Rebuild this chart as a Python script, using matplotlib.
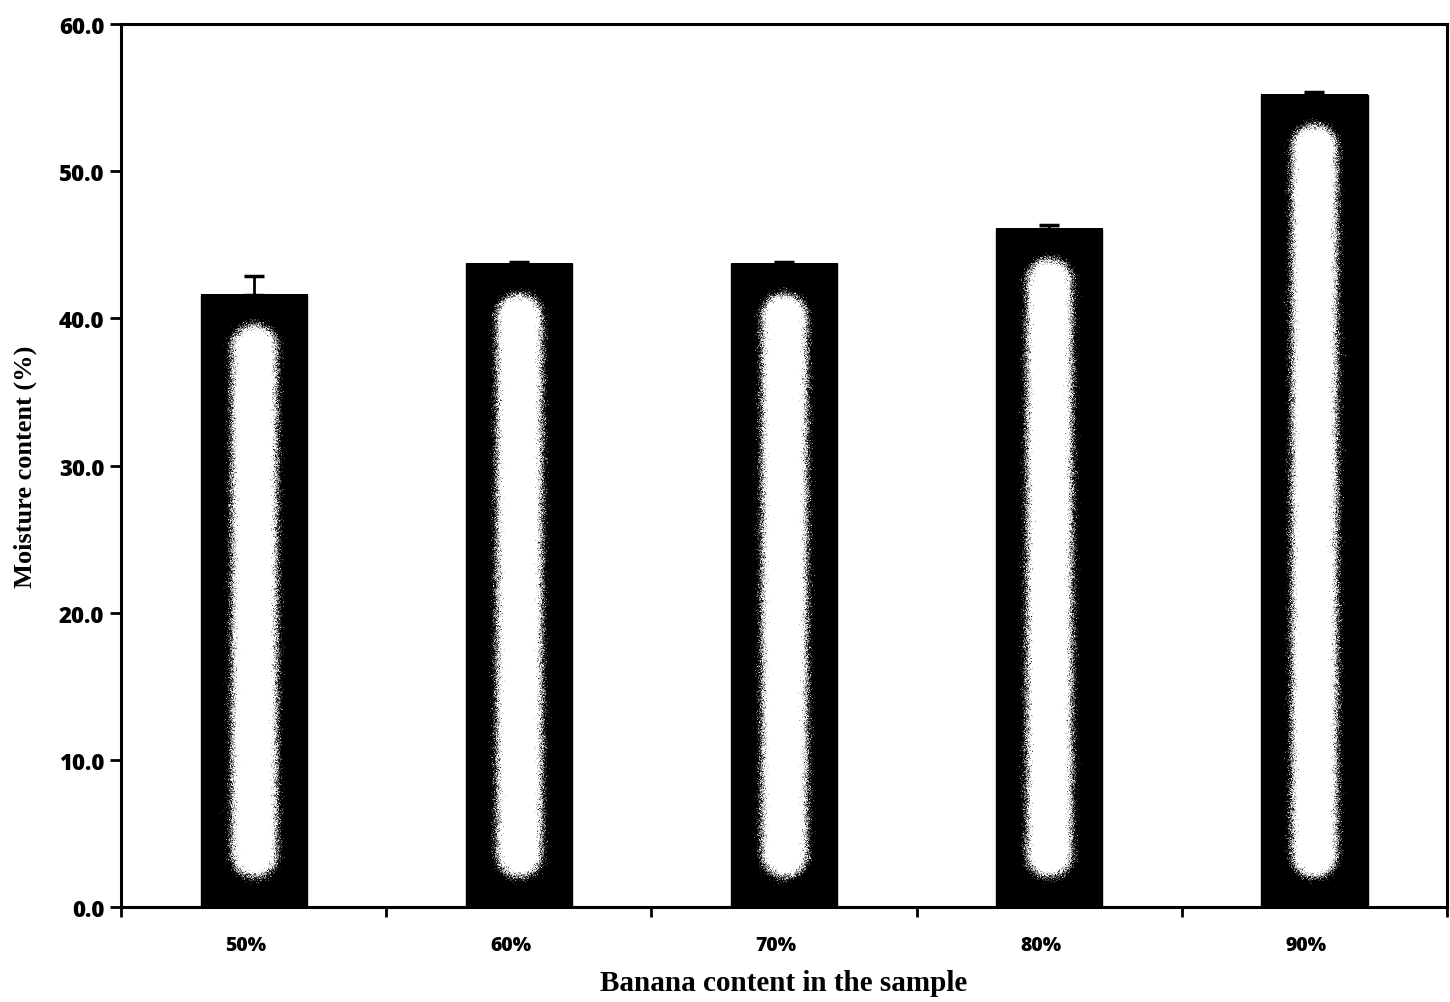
import numpy as np
import matplotlib
matplotlib.use("Agg")
import matplotlib.pyplot as plt

# moisture content of the samples
categories = ["50%", "60%", "70%", "80%", "90%"]
moisture = [41.6, 43.7, 43.7, 46.1, 55.2]
moisture_err = [1.3, 0.15, 0.15, 0.25, 0.2]
yticks = [0, 10, 20, 30, 40, 50, 60]

fig = plt.figure(figsize=(14.5, 10.03), dpi=100)
ax = fig.add_axes([0.0834, 0.0947, 0.9146, 0.8803])

x = np.arange(len(categories))
width = 0.4

# pixel size of one data unit, used to shape the glow inside each bar
ax_w = fig.get_figwidth() * fig.dpi * 0.9146
ax_h = fig.get_figheight() * fig.dpi * 0.8803
px_x = ax_w / len(categories)
px_y = ax_h / 60.0

bars = ax.bar(x, moisture, width, color="black", edgecolor="black", zorder=2)
ax.errorbar(x, moisture, yerr=[np.zeros(len(moisture)), moisture_err],
            fmt="none", ecolor="black", elinewidth=2, capsize=7, capthick=2.5, zorder=3)

# white rounded core fading into black (gradient fill look), grainy edge
rng = np.random.default_rng(3)
for xi, h in zip(x, moisture):
    wpx = width * px_x
    hpx = h * px_y
    nx, ny = int(wpx), int(hpx)
    xx = np.linspace(-wpx / 2, wpx / 2, nx)
    yy = np.linspace(hpx, 0, ny)
    X, Y = np.meshgrid(xx, yy)
    r = 22.0
    y0, y1 = 30 + r, hpx - 31 - r
    dy = np.clip(Y, y0, y1)
    d = np.sqrt(X ** 2 + (Y - dy) ** 2) - r
    grain = rng.normal(0, 2.2, d.shape)
    img = np.clip(1 - (d + grain + 3) / 7.0, 0, 1)
    ax.imshow(img, cmap="gray", vmin=0, vmax=1, aspect="auto",
              extent=[xi - width / 2, xi + width / 2, 0, h],
              interpolation="nearest", zorder=2.5)

ax.set_xlim(-0.5, len(categories) - 0.5)
ax.set_ylim(0, 60)

# category labels under bars, tick marks between them
ax.set_xticks(x - 0.03)
ax.set_xticklabels(categories, fontsize=14, fontweight=800, family="Open Sans")
ax.tick_params(axis="x", which="major", length=0, pad=20)
ax.set_xticks(np.arange(-0.5, len(categories)), minor=True)
ax.tick_params(axis="x", which="minor", length=7, width=2, direction="out")

ax.set_yticks(yticks)
ax.set_yticklabels([f"{v:.1f}" for v in yticks], fontsize=16,
                   fontweight=800, family="Open Sans")
ax.tick_params(axis="y", length=8, width=2, direction="out", pad=4)

for s in ax.spines.values():
    s.set_linewidth(2.2)

ax.set_xlabel("Banana content in the sample", fontsize=21, fontweight="bold",
              family="Liberation Serif", labelpad=10)
ax.set_ylabel("Moisture content (%)", fontsize=19, fontweight="bold",
              family="Liberation Serif", labelpad=16)

fig.savefig("out.png", dpi=100)
